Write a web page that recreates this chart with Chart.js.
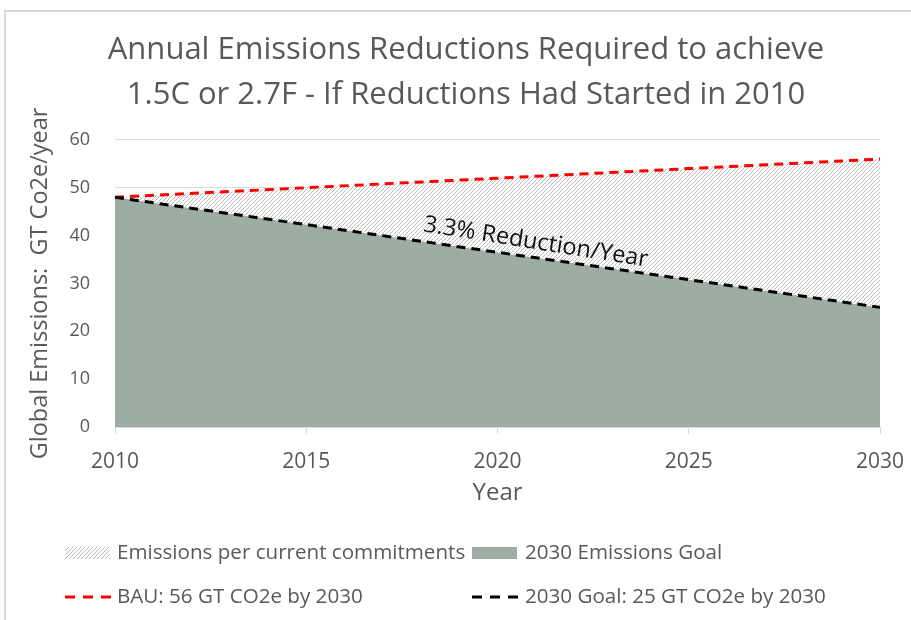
<!DOCTYPE html>
<html><head><meta charset="utf-8">
<script src="https://cdn.jsdelivr.net/npm/chart.js@4.4.0/dist/chart.umd.min.js"></script>
<style>
html,body{margin:0;padding:0;background:#fff;overflow:hidden;}
#wrap{position:relative;width:911px;height:620px;overflow:hidden;}
#frame{position:absolute;left:4px;top:10px;width:1000px;height:1000px;border:2px solid #d9d9d9;}
canvas{position:absolute;left:0;top:0;}
</style></head><body>
<div id="wrap"><div id="frame"></div><canvas id="c" width="911" height="620"></canvas></div>
<script>
const years = ['2010', '2015', '2020', '2025', '2030'];
const bauValues = [48, 50, 52, 54, 56];
const goalValues = [48, 42.3, 36.5, 30.8, 25];
const seriesNames = ['Emissions per current commitments', '2030 Emissions Goal', 'BAU: 56 GT CO2e by 2030', '2030 Goal: 25 GT CO2e by 2030'];
const titleLines = ['Annual Emissions Reductions Required to achieve', '1.5C or 2.7F - If Reductions Had Started in 2010'];
const xAxisTitle = 'Year';
const yAxisTitle = 'Global Emissions:  GT Co2e/year';
const annotationText = '3.3% Reduction/Year';
const yMin = 0, yMax = 60, yStep = 10;

const FONT = '"Open Sans", "Noto Sans", sans-serif';
const GREY = '#595959';
const GOAL_FILL = '#9eada3';

const canvas = document.getElementById('c');
const ctx = canvas.getContext('2d');

function makeHatch() {
  const s = 4;
  const p = document.createElement('canvas');
  p.width = s; p.height = s;
  const g = p.getContext('2d');
  g.fillStyle = '#ffffff'; g.fillRect(0, 0, s, s);
  g.strokeStyle = '#bbbbbb'; g.lineWidth = 1;
  g.beginPath();
  g.moveTo(0, s); g.lineTo(s, 0);
  g.moveTo(-1, 1); g.lineTo(1, -1);
  g.moveTo(s - 1, s + 1); g.lineTo(s + 1, s - 1);
  g.stroke();
  return ctx.createPattern(p, 'repeat');
}
const hatch = makeHatch();

const titleShiftPlugin = {
  id: 'titleShift',
  afterLayout(chart) {
    if (chart.titleBlock) chart.titleBlock.left += 42;
  }
};

const annotationPlugin = {
  id: 'annot',
  afterDatasetsDraw(chart) {
    const xs = chart.scales.x, ys = chart.scales.y, c = chart.ctx;
    const px = xs.getPixelForValue(2.2), py = ys.getPixelForValue(38.6);
    c.save();
    c.translate(px, py);
    c.rotate(9 * Math.PI / 180);
    c.font = '23.5px ' + FONT;
    c.fillStyle = '#111111';
    c.textAlign = 'center';
    c.textBaseline = 'middle';
    c.fillText(annotationText, 0, 0);
    c.restore();
  }
};

const legendPlugin = {
  id: 'customLegend',
  afterDraw(chart) {
    const c = chart.ctx;
    const rows = [553, 597];
    const cols = [[65, 117], [472, 525]];
    const ds = chart.data.datasets;
    c.save();
    c.font = '20.6px ' + FONT;
    c.textBaseline = 'middle';
    c.textAlign = 'left';
    for (let i = 0; i < 4; i++) {
      const r = rows[Math.floor(i / 2)], col = cols[i % 2];
      const d = ds[i];
      if (i < 2) {
        c.fillStyle = d.backgroundColor;
        c.fillRect(col[0], r - 6, 45, 12);
      } else {
        c.strokeStyle = d.borderColor;
        c.lineWidth = 3;
        c.setLineDash([10, 8]);
        c.beginPath();
        c.moveTo(col[0], r); c.lineTo(col[0] + 46, r);
        c.stroke();
        c.setLineDash([]);
      }
      c.fillStyle = GREY;
      c.fillText(d.label, col[1], r);
    }
    c.restore();
  }
};

new Chart(canvas, {
  type: 'line',
  data: {
    labels: years,
    datasets: [
      { label: seriesNames[0], data: bauValues, fill: 1, backgroundColor: hatch, borderWidth: 0, pointRadius: 0, order: 2 },
      { label: seriesNames[1], data: goalValues, fill: 'origin', backgroundColor: GOAL_FILL, borderWidth: 0, pointRadius: 0, order: 3 },
      { label: seriesNames[2], data: bauValues, fill: false, borderColor: '#ff0000', borderWidth: 3, borderDash: [9, 6], pointRadius: 0, order: 1 },
      { label: seriesNames[3], data: goalValues, fill: false, borderColor: '#000000', borderWidth: 3, borderDash: [9, 6], pointRadius: 0, order: 0 }
    ]
  },
  options: {
    responsive: false,
    animation: false,
    layout: { padding: { left: 10, right: 31, top: 10, bottom: 112 } },
    plugins: {
      legend: { display: false },
      tooltip: { enabled: false },
      title: {
        display: true, text: titleLines, color: GREY,
        font: { family: FONT, size: 31, weight: 'normal', lineHeight: 1.45 },
        padding: { top: 18, bottom: 22 }
      }
    },
    scales: {
      x: {
        type: 'category', offset: false,
        afterFit(scale) { scale.height = 81; scale.paddingLeft = 0; scale.paddingRight = 0; },
        grid: { display: true, drawOnChartArea: false, drawTicks: true, tickLength: 7, color: '#d9d9d9', lineWidth: 1 },
        border: { display: true, color: '#d9d9d9', width: 1 },
        ticks: { color: GREY, font: { family: FONT, size: 21 }, padding: 15, maxRotation: 0, autoSkip: false },
        title: { display: true, text: xAxisTitle, color: GREY, font: { family: FONT, size: 24 }, padding: { top: 0, bottom: 0 } }
      },
      y: {
        min: yMin, max: yMax,
        afterFit(scale) { scale.width = 105; },
        grid: { color: '#d9d9d9', lineWidth: 1, drawTicks: false },
        border: { display: false },
        ticks: { stepSize: yStep, color: GREY, font: { family: FONT, size: 18 }, padding: 25 },
        title: { display: true, text: yAxisTitle, color: GREY, font: { family: FONT, size: 23.5 }, padding: { top: 16, bottom: 10 } }
      }
    }
  },
  plugins: [titleShiftPlugin, annotationPlugin, legendPlugin]
});
</script>
</body></html>
